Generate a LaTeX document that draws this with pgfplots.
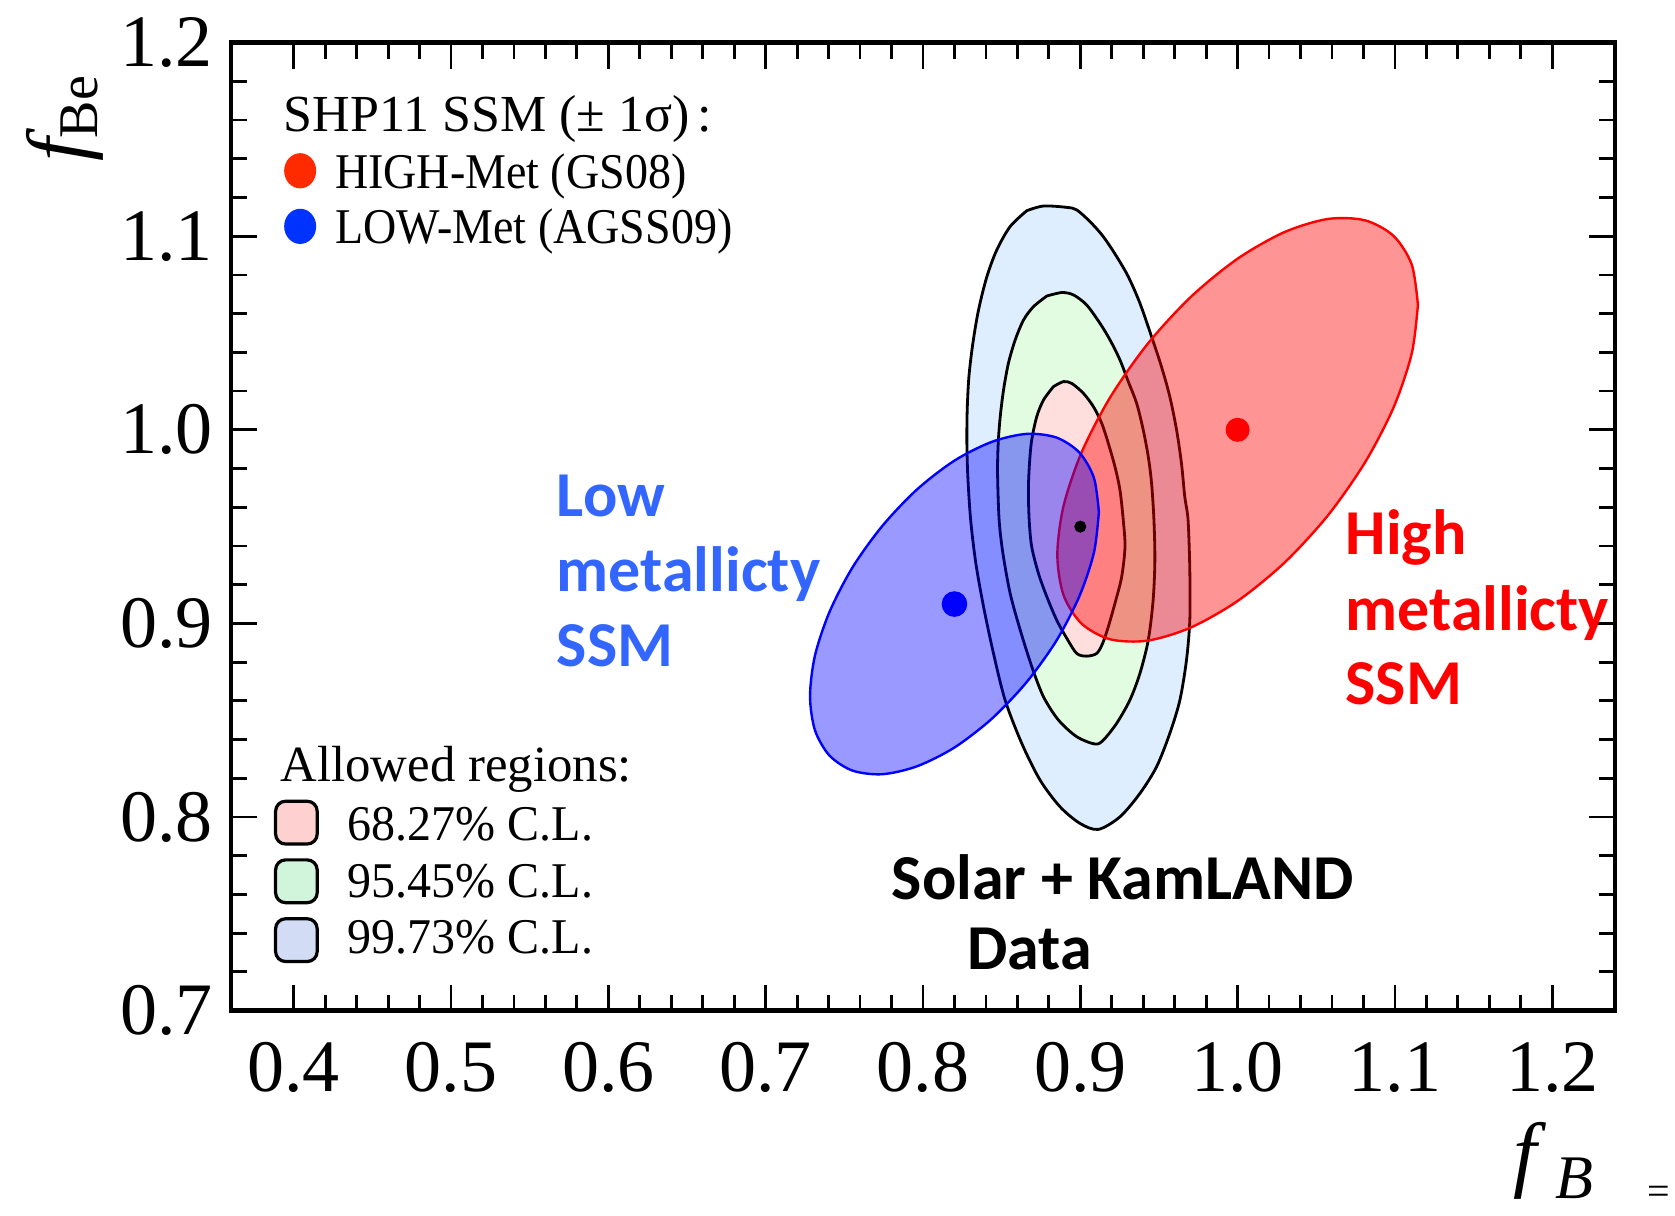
\documentclass[border=0pt]{standalone}
\usepackage{fontspec}
\setmainfont{Liberation Serif}
\newfontfamily\annotfont{Carlito}
\newfontfamily\entryfont{Liberation Serif}[FakeStretch=0.92]
\newfontfamily\clfont{Liberation Serif}[FakeStretch=0.96]
\usepackage{pgfplots}
\pgfplotsset{compat=1.18}

\definecolor{cl99}{HTML}{DEEEFF}
\definecolor{cl95}{HTML}{E2FCE2}
\definecolor{cl68}{HTML}{FFDEDE}
\definecolor{lowblue}{HTML}{3366FF}
\definecolor{legred}{HTML}{FF2A00}
\definecolor{legblue}{HTML}{0033FF}
\definecolor{box68}{HTML}{FFD0D0}
\definecolor{box95}{HTML}{D0F5DA}
\definecolor{box99}{HTML}{D2DCF5}

\begin{document}
\begin{tikzpicture}
\useasboundingbox (-57.7pt,-51.1pt) rectangle (361.05pt,252.65pt);
\begin{axis}[
  at={(0,0)}, anchor=south west,
  width=346.1pt, height=242pt, scale only axis,
  xmin=0.36, xmax=1.24, ymin=0.7, ymax=1.2,
  xtick={0.4,0.5,0.6,0.7,0.8,0.9,1.0,1.1,1.2},
  xticklabels={0.4,0.5,0.6,0.7,0.8,0.9,1.0,1.1,1.2},
  ytick={0.7,0.8,0.9,1.0,1.1,1.2},
  yticklabels={0.7,0.8,0.9,1.0,1.1,1.2},
  minor x tick num=4, minor y tick num=4,
  major tick length=6.5pt, minor tick length=4pt,
  tick style={black, line width=0.7pt},
  axis line style={line width=1.1pt},
  tick label style={font=\fontsize{18.5}{18.5}\selectfont},
  xticklabel style={inner sep=0pt, anchor=north, yshift=-7.7pt},
  yticklabel style={inner sep=0pt, anchor=east, xshift=-4.3pt},
  clip=false,
]
% Solar + KamLAND allowed regions
\addplot[smooth, tension=0.5, draw=black, line width=0.7pt, line join=round, fill=cl99] coordinates {
(0.8660,1.1132) (0.8766,1.1156) (0.8914,1.1149) (0.8977,1.1136) (0.9062,1.1075)
(0.9146,1.0998) (0.9231,1.0895) (0.9305,1.0791) (0.9379,1.0654) (0.9453,1.0481)
(0.9516,1.0326) (0.9569,1.0171) (0.9612,0.9999) (0.9643,0.9827) (0.9664,0.9655)
(0.9685,0.9534) (0.9696,0.9276) (0.9696,0.9017) (0.9675,0.8811) (0.9633,0.8604)
(0.9569,0.8432) (0.9485,0.8260) (0.9379,0.8122) (0.9252,0.8001) (0.9114,0.7936)
(0.8998,0.7967) (0.8871,0.8053) (0.8744,0.8191) (0.8628,0.8380) (0.8522,0.8604)
(0.8448,0.8845) (0.8385,0.9086) (0.8336,0.9310) (0.8303,0.9534) (0.8285,0.9758)
(0.8279,0.9930) (0.8281,1.0102) (0.8292,1.0275) (0.8317,1.0447) (0.8353,1.0619)
(0.8406,1.0791) (0.8469,1.0929) (0.8554,1.1050) (0.8660,1.1132)} -- cycle;
\addplot[smooth, tension=0.5, draw=black, line width=0.7pt, line join=round, fill=cl95] coordinates {
(0.8787,1.0691) (0.8882,1.0709) (0.8956,1.0697) (0.9040,1.0645) (0.9125,1.0550)
(0.9189,1.0464) (0.9252,1.0361) (0.9305,1.0249) (0.9358,1.0137) (0.9400,0.9999)
(0.9432,0.9861) (0.9453,0.9724) (0.9468,0.9534) (0.9474,0.9327) (0.9463,0.9121)
(0.9432,0.8914) (0.9379,0.8742) (0.9315,0.8604) (0.9231,0.8484) (0.9146,0.8397)
(0.9093,0.8377) (0.8977,0.8415) (0.8861,0.8501) (0.8766,0.8621) (0.8692,0.8776)
(0.8618,0.8966) (0.8554,0.9155) (0.8508,0.9362) (0.8484,0.9534) (0.8474,0.9775)
(0.8478,0.9930) (0.8491,1.0068) (0.8512,1.0206) (0.8543,1.0344) (0.8586,1.0464)
(0.8639,1.0567) (0.8702,1.0636) (0.8787,1.0691)} -- cycle;
\addplot[smooth, tension=0.5, draw=black, line width=0.7pt, line join=round, fill=cl68] coordinates {
(0.8829,1.0223) (0.8892,1.0249) (0.8945,1.0240) (0.9019,1.0189) (0.9083,1.0120)
(0.9136,1.0034) (0.9178,0.9930) (0.9220,0.9810) (0.9252,0.9689) (0.9273,0.9534)
(0.9284,0.9396) (0.9263,0.9241) (0.9220,0.9103) (0.9178,0.8983) (0.9142,0.8897)
(0.9104,0.8845) (0.9040,0.8831) (0.8977,0.8845) (0.8914,0.8923) (0.8850,0.9017)
(0.8787,0.9138) (0.8734,0.9258) (0.8691,0.9396) (0.8675,0.9534) (0.8670,0.9689)
(0.8677,0.9827) (0.8691,0.9947) (0.8723,1.0068) (0.8766,1.0154) (0.8829,1.0223)} -- cycle;

% SSM 1-sigma ellipses: high metallicity (GS08)
\addplot[smooth, draw=red, line width=0.6pt, line join=round, fill=red, fill opacity=0.42] coordinates {
(1.1146,1.0646) (1.1107,1.0853) (1.0992,1.1001) (1.0810,1.1082) (1.0573,1.1089)
(1.0297,1.1021) (1.0000,1.0884) (0.9703,1.0687) (0.9427,1.0443) (0.9190,1.0168)
(0.9008,0.9883) (0.8893,0.9605) (0.8854,0.9354) (0.8893,0.9147) (0.9008,0.8999)
(0.9190,0.8918) (0.9427,0.8911) (0.9703,0.8979) (1.0000,0.9116) (1.0297,0.9313)
(1.0573,0.9557) (1.0810,0.9832) (1.0992,1.0117) (1.1107,1.0395) (1.1146,1.0646)} -- cycle;
% low metallicity (AGSS09)
\addplot[smooth, draw=blue, line width=0.6pt, line join=round, fill=blue, fill opacity=0.4] coordinates {
(0.9118,0.9575) (0.9087,0.9751) (0.8995,0.9882) (0.8849,0.9960) (0.8659,0.9979)
(0.8438,0.9938) (0.8200,0.9841) (0.7962,0.9692) (0.7741,0.9503) (0.7551,0.9288)
(0.7405,0.9058) (0.7313,0.8833) (0.7282,0.8625) (0.7313,0.8449) (0.7405,0.8318)
(0.7551,0.8240) (0.7741,0.8221) (0.7962,0.8262) (0.8200,0.8359) (0.8438,0.8508)
(0.8659,0.8697) (0.8849,0.8912) (0.8995,0.9142) (0.9087,0.9367) (0.9118,0.9575)} -- cycle;

% model predictions and best fit
\addplot[only marks, mark=*, mark size=2.8pt, color=red] coordinates {(1.00,1.00)};
\addplot[only marks, mark=*, mark size=3pt, color=blue] coordinates {(0.82,0.91)};
\addplot[only marks, mark=*, mark size=1.3pt, color=black] coordinates {(0.90,0.95)};

% model legend
\node[anchor=base west, inner sep=0pt, font=\fontsize{13}{14}\selectfont]
  at (axis cs:0.3932,1.1542) {SHP11 SSM (± 1σ)\hspace{2pt}:};
\fill[legred] (axis cs:0.4041,1.1338) ellipse [x radius=4pt, y radius=4.4pt];
\node[anchor=base west, inner sep=0pt, font=\entryfont\fontsize{12.5}{14}\selectfont]
  at (axis cs:0.4258,1.1249) {HIGH-Met (GS08)};
\fill[legblue] (axis cs:0.4041,1.1051) ellipse [x radius=4pt, y radius=4.4pt];
\node[anchor=base west, inner sep=0pt, font=\entryfont\fontsize{12.5}{14}\selectfont]
  at (axis cs:0.4258,1.0962) {LOW-Met (AGSS09)};

% confidence-level legend
\node[anchor=base west, inner sep=0pt, font=\fontsize{12.7}{14}\selectfont]
  at (axis cs:0.3912,0.8181) {Allowed regions:};
\node[draw=black, line width=0.8pt, rounded corners=2.5pt, fill=box68,
  minimum width=10.4pt, minimum height=10.7pt, inner sep=0pt] at (axis cs:0.4017,0.7971) {};
\node[draw=black, line width=0.8pt, rounded corners=2.5pt, fill=box95,
  minimum width=10.4pt, minimum height=10.7pt, inner sep=0pt] at (axis cs:0.4017,0.7668) {};
\node[draw=black, line width=0.8pt, rounded corners=2.5pt, fill=box99,
  minimum width=10.4pt, minimum height=10.7pt, inner sep=0pt] at (axis cs:0.4017,0.7364) {};
\node[anchor=base west, inner sep=0pt, font=\clfont\fontsize{12.5}{14}\selectfont]
  at (axis cs:0.4339,0.7878) {68.27\% C.L.};
\node[anchor=base west, inner sep=0pt, font=\clfont\fontsize{12.5}{14}\selectfont]
  at (axis cs:0.4339,0.7585) {95.45\% C.L.};
\node[anchor=base west, inner sep=0pt, font=\clfont\fontsize{12.5}{14}\selectfont]
  at (axis cs:0.4339,0.7293) {99.73\% C.L.};

% annotations
\node[anchor=base west, inner sep=0pt, text=lowblue, font=\annotfont\bfseries\fontsize{16}{19}\selectfont]
  at (axis cs:0.5668,0.9552) {Low};
\node[anchor=base west, inner sep=0pt, text=lowblue, font=\annotfont\bfseries\fontsize{16}{19}\selectfont]
  at (axis cs:0.5668,0.9163) {metallicty};
\node[anchor=base west, inner sep=0pt, text=lowblue, font=\annotfont\bfseries\fontsize{16}{19}\selectfont]
  at (axis cs:0.5668,0.8775) {SSM};
\node[anchor=base west, inner sep=0pt, text=red, font=\annotfont\bfseries\fontsize{16}{19}\selectfont]
  at (axis cs:1.0682,0.9354) {High};
\node[anchor=base west, inner sep=0pt, text=red, font=\annotfont\bfseries\fontsize{16}{19}\selectfont]
  at (axis cs:1.0682,0.8965) {metallicty};
\node[anchor=base west, inner sep=0pt, text=red, font=\annotfont\bfseries\fontsize{16}{19}\selectfont]
  at (axis cs:1.0682,0.8579) {SSM};
\node[anchor=base west, inner sep=0pt, font=\annotfont\bfseries\fontsize{16}{19}\selectfont]
  at (axis cs:0.7797,0.7574) {Solar + KamLAND};
\node[anchor=base west, inner sep=0pt, font=\annotfont\bfseries\fontsize{16}{19}\selectfont]
  at (axis cs:0.8278,0.7210) {Data};

% axis labels
\node[rotate=90, anchor=base west, inner sep=0pt]
  at (axis cs:0.2678,1.1382) {{\fontsize{21}{21}\selectfont\itshape f}\raisebox{-3pt}{\fontsize{14}{14}\selectfont Be}};
\node[anchor=base west, inner sep=0pt]
  at (axis cs:1.1750,0.6117) {{\fontsize{21}{21}\selectfont\itshape f}\hspace{4.5pt}\raisebox{-4.2pt}{\fontsize{15.5}{15.5}\selectfont\itshape B}};
\node[inner sep=0pt, font=\fontsize{10}{10}\selectfont] at (axis cs:1.2678,0.6045) {=};
\end{axis}
\end{tikzpicture}
\end{document}
